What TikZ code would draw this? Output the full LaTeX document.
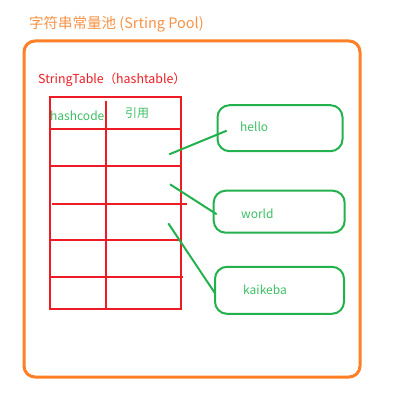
\documentclass[tikz,border=0pt]{standalone}
\usepackage{fontspec}
\setmainfont{Noto Sans CJK SC}
\definecolor{porange}{RGB}{255,127,39}
\definecolor{ptitle}{RGB}{247,146,70}
\definecolor{pred}{RGB}{237,28,36}
\definecolor{pgreen}{RGB}{34,177,76}
\definecolor{plabel}{RGB}{60,190,100}
\begin{document}
\begin{tikzpicture}[x=1pt,y=-1pt,
  redline/.style={draw=pred,line width=2pt},
  greenline/.style={draw=pgreen,line width=2pt},
  strbox/.style={draw=pgreen,line width=2pt,rounded corners=12pt,minimum width=125pt,minimum height=46pt,inner sep=0pt},
  lbl/.style={text=plabel,font=\fontsize{12}{14}\selectfont,anchor=west,inner sep=0pt}]
\useasboundingbox (0,0) rectangle (404,411);
% title
\node[anchor=west,inner sep=0pt,text=ptitle,font=\fontsize{14.5}{17}\selectfont] (title) at (29,24) {字符串常量池 (Srting Pool)};
% pool
\draw[draw=porange,line width=3pt,rounded corners=11pt] (24,41) rectangle (360,377);
\node[anchor=west,inner sep=0pt,text=pred,font=\fontsize{12.4}{15}\selectfont] (st) at (38,80) {StringTable（hashtable）};
% table
\draw[redline] (50,97.5) rectangle (180.5,308.5);
\draw[redline] (106,101) -- (106,308.5);
\draw[redline] (50,129) -- (180.5,129);
\draw[redline] (49,166.3) -- (180.5,166.3);
\draw[redline] (52,204) -- (186.5,204);
\draw[redline] (50,240) -- (180.5,240);
\draw[redline] (50,276.7) -- (182.5,276.7);
\node[lbl] (hc) at (50,116) {hashcode};
\node[lbl,anchor=center] (ref) at (137,113) {引用};
% string boxes
\node[strbox] (hello) at (280,128.2) {};
\node[strbox,minimum width=131pt,minimum height=42pt] (world) at (279.2,211.7) {};
\node[strbox,minimum width=129pt,minimum height=47pt] (kaikeba) at (279.5,290.3) {};
\node[lbl] (t1) at (240,127) {hello};
\node[lbl] (t2) at (241,214) {world};
\node[lbl] (t3) at (243,290) {kaikeba};
% connectors
\coordinate (s1) at (169.3,154.3);
\coordinate (e1) at (226.7,130.7);
\coordinate (s2) at (170,184.3);
\coordinate (e2) at (216.7,214.3);
\coordinate (s3) at (168.3,223.3);
\coordinate (e3) at (215,293.3);
\draw[greenline] (s1) -- (e1);
\draw[greenline] (s2) -- (e2);
\draw[greenline] (s3) -- (e3);
\end{tikzpicture}
\end{document}
